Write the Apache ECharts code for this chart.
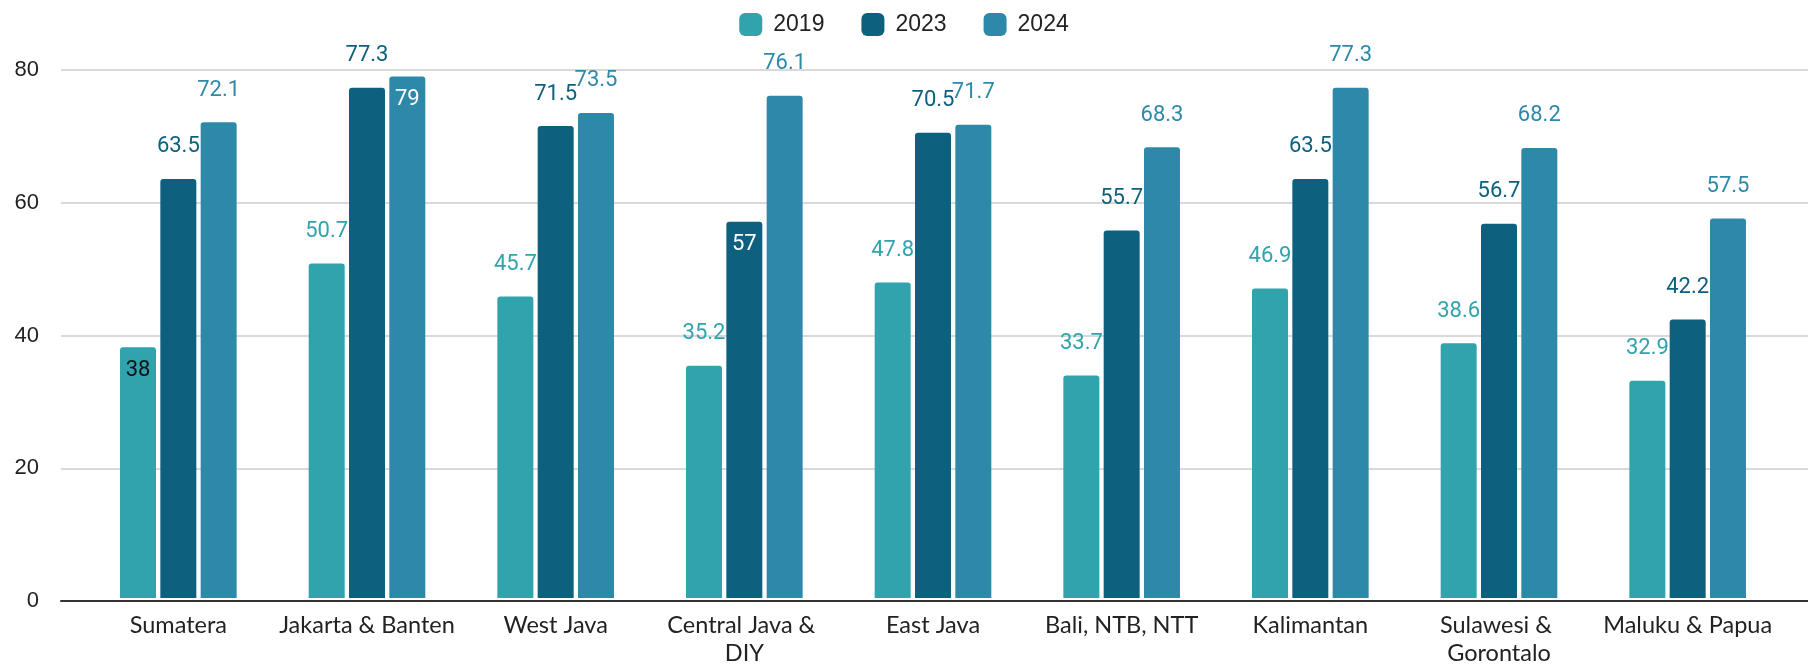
<!DOCTYPE html>
<html>
<head>
<meta charset="utf-8">
<title>Regional values 2019 / 2023 / 2024</title>
<script src="https://cdn.jsdelivr.net/npm/echarts@6/dist/echarts.min.js"></script>
<style>
  html, body { margin: 0; padding: 0; background: #ffffff; }
  #chart { width: 1808px; height: 667px; }
</style>
</head>
<body>
<div id="chart"></div>
<script>
// Regions along the category axis
const categories = [
  'Sumatera', 'Jakarta & Banten', 'West Java', 'Central Java & DIY',
  'East Java', 'Bali, NTB, NTT', 'Kalimantan', 'Sulawesi & Gorontalo', 'Maluku & Papua'
];

// Values per year
const values2019 = [38, 50.7, 45.7, 35.2, 47.8, 33.7, 46.9, 38.6, 32.9];
const values2023 = [63.5, 77.3, 71.5, 57, 70.5, 55.7, 63.5, 56.7, 42.2];
const values2024 = [72.1, 79, 73.5, 76.1, 71.7, 68.3, 77.3, 68.2, 57.5];

// Value axis ticks
const yTicks = [0, 20, 40, 60, 80];

const yearNames = ['2019', '2023', '2024'];
const colors = ['#30a3ad', '#0e607f', '#2e89a9'];

// Labels that sit inside the top of their bar: series index -> {category index: text colour}
const insideLabels = {
  0: { 0: '#111111' },
  1: { 3: '#ffffff' },
  2: { 1: '#ffffff' }
};

const labelFont = 'Roboto, "Noto Sans", sans-serif';
const categoryFont = 'Lato, "Open Sans", sans-serif';
const plainFont = '"Liberation Sans", Arial, sans-serif';

function buildData(values, seriesIndex) {
  return values.map(function (v, i) {
    const inside = insideLabels[seriesIndex] && insideLabels[seriesIndex][i];
    if (!inside) return v;
    return {
      value: v,
      label: { position: 'insideTop', distance: 12, color: inside }
    };
  });
}

const allSeries = [values2019, values2023, values2024].map(function (vals, si) {
  return {
    name: yearNames[si],
    type: 'bar',
    xAxisIndex: 1,
    yAxisIndex: 1,
    barWidth: 36,
    barGap: '12%',
    itemStyle: { color: colors[si], borderRadius: [3, 3, 0, 0] },
    label: {
      show: true,
      position: 'top',
      distance: 21,
      color: colors[si],
      fontFamily: labelFont,
      fontSize: 22,
      textBorderWidth: 0
    },
    emphasis: { disabled: true },
    data: buildData(vals, si)
  };
});

const chart = echarts.init(document.getElementById('chart'), null, { renderer: 'canvas' });

chart.setOption({
  animation: false,
  backgroundColor: '#ffffff',
  legend: {
    top: 8,
    left: 'center',
    icon: 'roundRect',
    itemWidth: 23,
    itemHeight: 23,
    itemGap: 37,
    textStyle: { fontFamily: plainFont, fontSize: 23, color: '#222222', padding: [0, 0, 0, 6] },
    data: yearNames
  },
  grid: [
    // frame for gridlines, value labels and the baseline
    { left: 61, right: 0, top: 70, bottom: 66 },
    // frame holding the bars
    { left: 84, right: 26, top: 70, bottom: 66 }
  ],
  xAxis: [
    {
      gridIndex: 0,
      type: 'category',
      data: [''],
      axisLine: { show: true, lineStyle: { color: '#333333', width: 2 } },
      axisTick: { show: false },
      axisLabel: { show: false },
      splitLine: { show: false }
    },
    {
      gridIndex: 1,
      type: 'category',
      data: categories,
      axisLine: { show: false },
      axisTick: { show: false },
      axisLabel: {
        margin: 13,
        fontFamily: categoryFont,
        fontSize: 23.5,
        lineHeight: 28,
        color: '#222222',
        width: 182,
        overflow: 'break',
        interval: 0
      }
    }
  ],
  yAxis: [
    {
      gridIndex: 0,
      type: 'value',
      min: yTicks[0],
      max: yTicks[yTicks.length - 1],
      interval: yTicks[1] - yTicks[0],
      axisLine: { show: false },
      axisTick: { show: false },
      axisLabel: {
        margin: 22,
        fontFamily: plainFont,
        fontSize: 22,
        color: '#222222'
      },
      splitLine: { show: true, lineStyle: { color: '#cccccc', width: 1.5 } }
    },
    {
      gridIndex: 1,
      type: 'value',
      min: yTicks[0],
      max: yTicks[yTicks.length - 1],
      interval: yTicks[1] - yTicks[0],
      show: false,
      splitLine: { show: false }
    }
  ],
  series: allSeries
});
</script>
</body>
</html>
